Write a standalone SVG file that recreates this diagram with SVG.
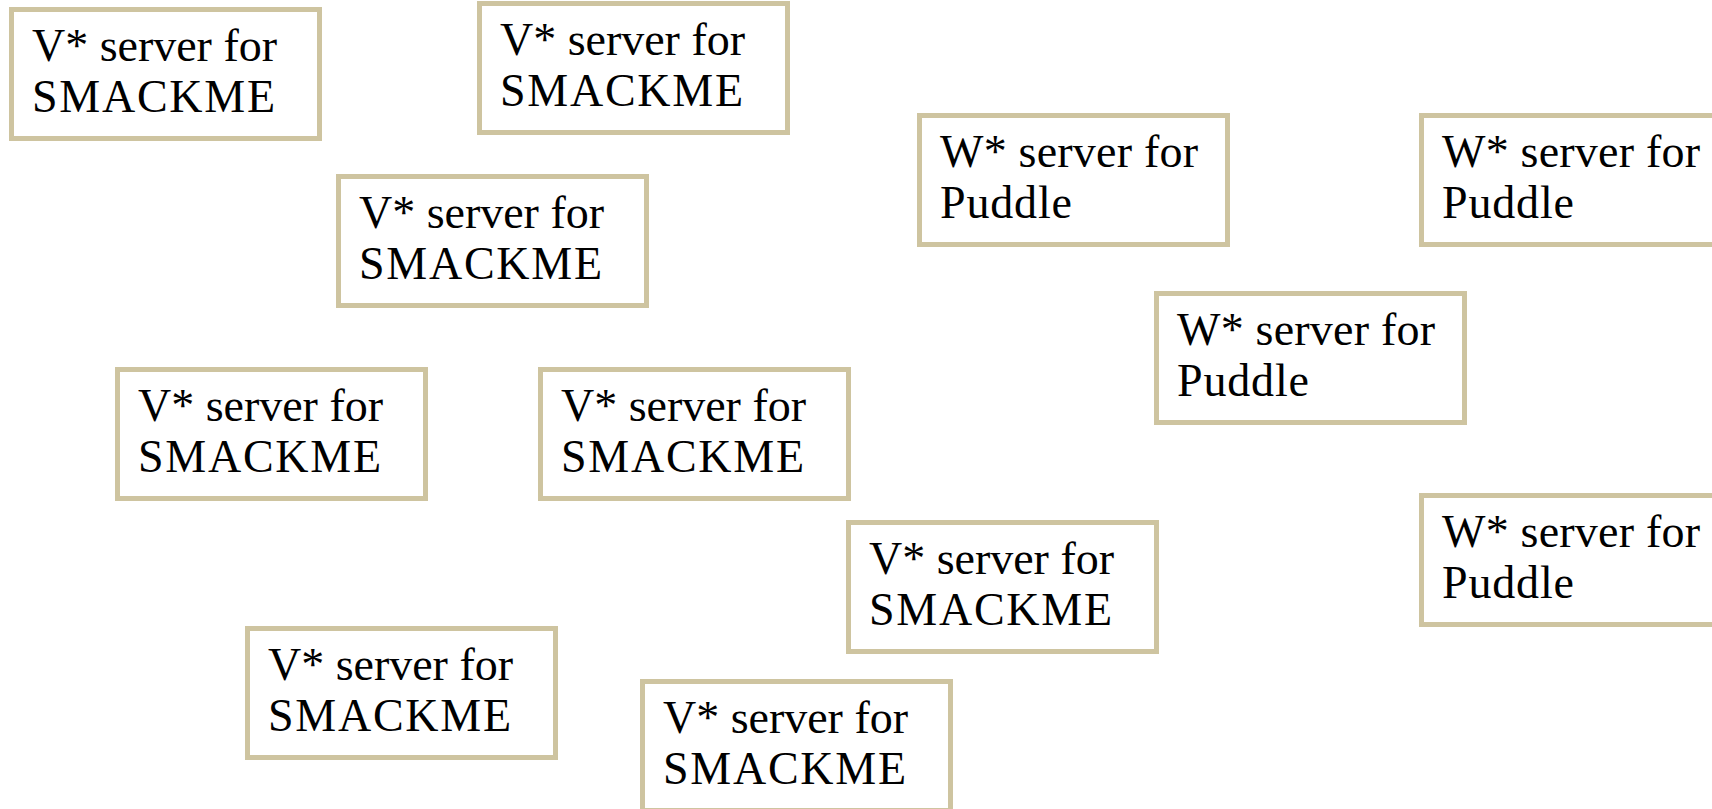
<svg xmlns="http://www.w3.org/2000/svg" width="1712" height="809" viewBox="0 0 1712 809">
<style>
.box{fill:#ffffff;stroke:#cec4a0;stroke-width:5}
.t{font-family:"Liberation Serif","Times New Roman",serif;font-size:46px;fill:#000}
</style>
<rect width="1712" height="809" fill="#ffffff"/>
<g id="connectors"/>
<g id="v1" transform="translate(9,7)"><rect class="box" x="2.5" y="2.5" width="308" height="129"/><text class="t" x="23" y="54" textLength="245" lengthAdjust="spacing">V* server for</text><text class="t" x="23" y="105" textLength="243" lengthAdjust="spacing">SMACKME</text></g>
<g id="v2" transform="translate(477,1)"><rect class="box" x="2.5" y="2.5" width="308" height="129"/><text class="t" x="23" y="54" textLength="245" lengthAdjust="spacing">V* server for</text><text class="t" x="23" y="105" textLength="243" lengthAdjust="spacing">SMACKME</text></g>
<g id="v3" transform="translate(336,174)"><rect class="box" x="2.5" y="2.5" width="308" height="129"/><text class="t" x="23" y="54" textLength="245" lengthAdjust="spacing">V* server for</text><text class="t" x="23" y="105" textLength="243" lengthAdjust="spacing">SMACKME</text></g>
<g id="w1" transform="translate(917,113)"><rect class="box" x="2.5" y="2.5" width="308" height="129"/><text class="t" x="23" y="54" textLength="258" lengthAdjust="spacing">W* server for</text><text class="t" x="23" y="105" textLength="132" lengthAdjust="spacing">Puddle</text></g>
<g id="w2" transform="translate(1419,113)"><rect class="box" x="2.5" y="2.5" width="308" height="129"/><text class="t" x="23" y="54" textLength="258" lengthAdjust="spacing">W* server for</text><text class="t" x="23" y="105" textLength="132" lengthAdjust="spacing">Puddle</text></g>
<g id="w3" transform="translate(1154,291)"><rect class="box" x="2.5" y="2.5" width="308" height="129"/><text class="t" x="23" y="54" textLength="258" lengthAdjust="spacing">W* server for</text><text class="t" x="23" y="105" textLength="132" lengthAdjust="spacing">Puddle</text></g>
<g id="v4" transform="translate(115,367)"><rect class="box" x="2.5" y="2.5" width="308" height="129"/><text class="t" x="23" y="54" textLength="245" lengthAdjust="spacing">V* server for</text><text class="t" x="23" y="105" textLength="243" lengthAdjust="spacing">SMACKME</text></g>
<g id="v5" transform="translate(538,367)"><rect class="box" x="2.5" y="2.5" width="308" height="129"/><text class="t" x="23" y="54" textLength="245" lengthAdjust="spacing">V* server for</text><text class="t" x="23" y="105" textLength="243" lengthAdjust="spacing">SMACKME</text></g>
<g id="w4" transform="translate(1419,493)"><rect class="box" x="2.5" y="2.5" width="308" height="129"/><text class="t" x="23" y="54" textLength="258" lengthAdjust="spacing">W* server for</text><text class="t" x="23" y="105" textLength="132" lengthAdjust="spacing">Puddle</text></g>
<g id="v6" transform="translate(846,520)"><rect class="box" x="2.5" y="2.5" width="308" height="129"/><text class="t" x="23" y="54" textLength="245" lengthAdjust="spacing">V* server for</text><text class="t" x="23" y="105" textLength="243" lengthAdjust="spacing">SMACKME</text></g>
<g id="v7" transform="translate(245,626)"><rect class="box" x="2.5" y="2.5" width="308" height="129"/><text class="t" x="23" y="54" textLength="245" lengthAdjust="spacing">V* server for</text><text class="t" x="23" y="105" textLength="243" lengthAdjust="spacing">SMACKME</text></g>
<g id="v8" transform="translate(640,679)"><rect class="box" x="2.5" y="2.5" width="308" height="129"/><text class="t" x="23" y="54" textLength="245" lengthAdjust="spacing">V* server for</text><text class="t" x="23" y="105" textLength="243" lengthAdjust="spacing">SMACKME</text></g>
</svg>
